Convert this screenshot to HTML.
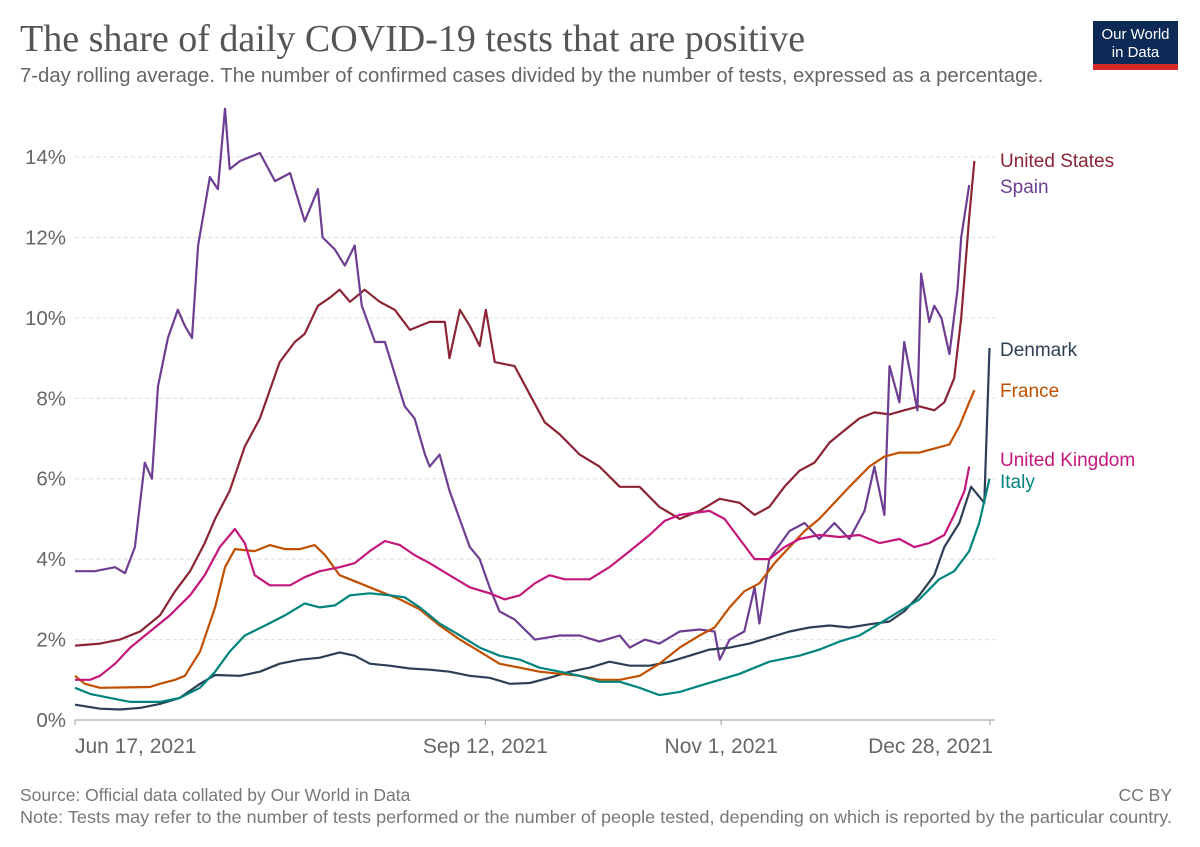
<!DOCTYPE html>
<html><head><meta charset="utf-8"><style>
body{margin:0;background:#fff;width:1200px;height:847px;overflow:hidden;font-family:"Liberation Sans",sans-serif}
svg{position:absolute;left:0;top:0}
</style></head><body>
<svg width="1200" height="847">
<text x="20" y="51" font-family="Liberation Serif, serif" font-size="38" fill="#555">The share of daily COVID-19 tests that are positive</text>
<text x="20" y="82" font-size="20.3" fill="#666">7-day rolling average. The number of confirmed cases divided by the number of tests, expressed as a percentage.</text>
<g>
<rect x="1093" y="21" width="85" height="49" fill="#0c2a55"/>
<rect x="1093" y="64" width="85" height="6" fill="#d42a2a"/>
<text x="1135.5" y="39" font-size="15" fill="#fff" text-anchor="middle">Our World</text>
<text x="1135.5" y="57" font-size="15" fill="#fff" text-anchor="middle">in Data</text>
</g>
<g id="grid"></g><g id="series"></g><g id="labels"></g>
<text x="20" y="801" font-size="17.5" fill="#777">Source: Official data collated by Our World in Data</text>
<text x="1172" y="801" font-size="17.5" fill="#777" text-anchor="end">CC BY</text>
<text x="20" y="823" font-size="17.5" fill="#777" textLength="1152" lengthAdjust="spacingAndGlyphs">Note: Tests may refer to the number of tests performed or the number of people tested, depending on which is reported by the particular country.</text>
</svg>
<script>
const yTicks=[0,2,4,6,8,10,12,14];
const xTickDays=[0,87,137,194];
const xTickLabels=["Jun 17, 2021","Sep 12, 2021","Nov 1, 2021","Dec 28, 2021"];
const seriesNames=["United States","Spain","Denmark","France","United Kingdom","Italy"];
const seriesColors=["#8b2435","#6d3e91","#2d3f55","#c05000","#c4177c","#00847e"];
const usData=[[0,1.85],[5.3,1.9],[9.5,2.0],[13.8,2.2],[18,2.6],[21.2,3.2],[24.4,3.7],[27.5,4.4],[29.7,5.0],[32.8,5.7],[36,6.8],[39.2,7.5],[43.4,8.9],[46.6,9.4],[48.7,9.6],[51.5,10.3],[54,10.5],[56.1,10.7],[58.3,10.4],[61.4,10.7],[64.6,10.4],[67.8,10.2],[71,9.7],[75.2,9.9],[78.4,9.9],[79.4,9.0],[81.6,10.2],[83.7,9.8],[85.8,9.3],[87.1,10.2],[89,8.9],[93.2,8.8],[96.4,8.1],[99.6,7.4],[102.8,7.1],[107,6.6],[111.2,6.3],[115.5,5.8],[119.7,5.8],[123.9,5.3],[128.2,5.0],[132.4,5.2],[136.7,5.5],[140.9,5.4],[144.1,5.1],[147.2,5.3],[150.4,5.8],[153.6,6.2],[156.8,6.4],[160,6.9],[163.1,7.2],[166.3,7.5],[169.5,7.65],[172.7,7.6],[175.8,7.7],[179,7.8],[182.2,7.7],[184.3,7.9],[186.4,8.5],[187.9,10.0],[189.6,12.5],[190.7,13.9]];
const spainData=[[0,3.7],[4.2,3.7],[8.5,3.8],[10.6,3.65],[12.7,4.3],[14.8,6.4],[16.3,6.0],[17.6,8.3],[19.7,9.5],[21.8,10.2],[23.3,9.8],[24.8,9.5],[26.1,11.8],[28.6,13.5],[30.3,13.2],[31.8,15.2],[32.8,13.7],[35,13.9],[39.2,14.1],[42.4,13.4],[45.6,13.6],[48.7,12.4],[51.5,13.2],[52.5,12.0],[55.1,11.7],[57.2,11.3],[59.3,11.8],[60.8,10.3],[63.6,9.4],[65.7,9.4],[67.8,8.6],[69.9,7.8],[72,7.5],[74.2,6.6],[75.2,6.3],[77.3,6.6],[79.4,5.7],[83.7,4.3],[85.8,4.0],[87.9,3.3],[90,2.7],[93.2,2.5],[97.5,2.0],[102.8,2.1],[107,2.1],[111.2,1.95],[115.5,2.1],[117.6,1.8],[120.8,2.0],[123.9,1.9],[128.2,2.2],[132.4,2.25],[135.6,2.2],[136.7,1.5],[138.8,2.0],[141.9,2.2],[144.1,3.3],[145.1,2.4],[147.2,4.0],[151.5,4.7],[154.7,4.9],[157.8,4.5],[161,4.9],[164.2,4.5],[167.4,5.2],[169.5,6.3],[171.6,5.1],[172.7,8.8],[174.8,7.9],[175.8,9.4],[178.6,7.7],[179.4,11.1],[181.1,9.9],[182.2,10.3],[183.7,10.0],[185.4,9.1],[187.1,10.7],[187.9,12.0],[189.6,13.3]];
const denmarkData=[[0,0.38],[5.3,0.28],[9.5,0.26],[13.8,0.3],[18,0.4],[22.2,0.55],[26.5,0.9],[29.7,1.12],[35,1.1],[39.2,1.2],[43.4,1.4],[47.7,1.5],[51.9,1.55],[56.1,1.68],[59.3,1.6],[62.5,1.4],[66.7,1.35],[71,1.28],[75.2,1.25],[79.4,1.2],[83.7,1.1],[87.9,1.05],[92.2,0.9],[96.4,0.92],[100.6,1.05],[104.9,1.2],[109.1,1.3],[113.3,1.45],[117.6,1.35],[121.8,1.35],[126.1,1.45],[130.3,1.6],[134.5,1.75],[138.8,1.8],[143,1.9],[147.2,2.05],[151.5,2.2],[155.7,2.3],[160,2.35],[164.2,2.3],[168.4,2.38],[172.7,2.45],[175.8,2.7],[179,3.1],[182.2,3.6],[184.3,4.3],[187.5,4.9],[190,5.8],[192.8,5.4],[193.9,9.25]];
const franceData=[[0,1.1],[2.1,0.9],[5.3,0.8],[15.9,0.82],[18,0.9],[21.2,1.0],[23.3,1.1],[26.5,1.7],[29.7,2.8],[31.8,3.8],[33.9,4.25],[38.1,4.2],[41.3,4.35],[44.5,4.25],[47.7,4.25],[50.8,4.35],[53,4.1],[56.1,3.6],[60.4,3.4],[64.6,3.2],[68.9,3.0],[73.1,2.75],[77.3,2.35],[81.6,2.0],[85.8,1.7],[90,1.4],[94.3,1.3],[98.5,1.2],[102.8,1.15],[107,1.1],[111.2,1.0],[115.5,1.0],[119.7,1.1],[123.9,1.4],[128.2,1.8],[132.4,2.1],[135.6,2.3],[138.8,2.8],[141.9,3.2],[145.1,3.4],[148.3,3.9],[151.5,4.3],[154.7,4.7],[157.8,5.0],[161,5.4],[164.2,5.8],[168.4,6.3],[171.6,6.55],[174.8,6.65],[179,6.65],[182.2,6.75],[185.4,6.85],[187.5,7.3],[189.6,7.9],[190.7,8.2]];
const ukData=[[0,1.0],[3.2,1.0],[5.3,1.1],[8.5,1.4],[11.7,1.8],[15.9,2.2],[20.1,2.6],[24.4,3.1],[27.5,3.6],[30.7,4.3],[33.9,4.75],[36,4.4],[38.1,3.6],[41.3,3.35],[45.6,3.35],[48.7,3.55],[51.9,3.7],[56.1,3.8],[59.3,3.9],[62.5,4.2],[65.7,4.45],[68.9,4.35],[72,4.1],[75.2,3.9],[79.4,3.6],[83.7,3.3],[87.9,3.15],[91.1,3.0],[94.3,3.1],[97.5,3.4],[100.6,3.6],[103.8,3.5],[109.1,3.5],[113.3,3.8],[117.6,4.2],[121.8,4.6],[125,4.95],[128.2,5.1],[131.4,5.15],[134.5,5.2],[137.7,5.0],[140.9,4.5],[144.1,4.0],[147.2,4.0],[150.4,4.3],[153.6,4.5],[157.8,4.6],[162.1,4.55],[166.3,4.6],[170.6,4.4],[174.8,4.5],[178,4.3],[181.1,4.4],[184.3,4.6],[186.4,5.1],[188.6,5.7],[189.6,6.3]];
const italyData=[[0,0.8],[3.2,0.65],[7.4,0.55],[11.7,0.45],[18,0.45],[22.2,0.55],[26.5,0.8],[29.7,1.2],[32.8,1.7],[36,2.1],[40.3,2.35],[44.5,2.6],[48.7,2.9],[51.9,2.8],[55.1,2.85],[58.3,3.1],[62.5,3.15],[66.7,3.1],[69.9,3.05],[73.1,2.8],[77.3,2.4],[81.6,2.1],[85.8,1.8],[90,1.6],[94.3,1.5],[98.5,1.3],[102.8,1.2],[107,1.1],[111.2,0.95],[115.5,0.95],[119.7,0.8],[123.9,0.62],[128.2,0.7],[132.4,0.85],[136.7,1.0],[140.9,1.15],[144.1,1.3],[147.2,1.45],[153.6,1.6],[157.8,1.75],[162.1,1.95],[166.3,2.1],[170.6,2.4],[174.8,2.7],[179,3.0],[183.2,3.5],[186.4,3.7],[189.6,4.2],[191.7,4.9],[193.9,6.0]];
const allData=[usData,spainData,denmarkData,franceData,ukData,italyData];
const X0=75,X1=990,Y0=720,Y14=157,DMAX=194,VMAX=14;
const xs=d=>X0+(X1-X0)*d/DMAX;
const ys=v=>Y0-(Y0-Y14)*v/VMAX;
const NS="http://www.w3.org/2000/svg";
function mk(t,a,p){const e=document.createElementNS(NS,t);for(const k in a)e.setAttribute(k,a[k]);p.appendChild(e);return e;}
const grid=document.getElementById('grid');
yTicks.forEach(v=>{
 const l=mk('line',{x1:75,x2:995,y1:ys(v),y2:ys(v),stroke:'#ddd','stroke-dasharray':v===0?'':'4,3'},grid);
 
 
 const t=mk('text',{x:66,y:ys(v)+7,'font-size':20.5,fill:'#666','text-anchor':'end'},grid);
 t.textContent=v+'%';
 
 
});
const ax=mk('line',{x1:75,x2:995,y1:Y0,y2:Y0,stroke:'#999'},grid);


xTickDays.forEach((d,i)=>{
 const tk=mk('line',{x1:xs(d),x2:xs(d),y1:Y0,y2:Y0+5,stroke:'#999'},grid);
 
 
 const anchor=i===0?'start':(i===xTickDays.length-1?'end':'middle');
 const t=mk('text',{x:xs(d)+(i===xTickDays.length-1?3:0),y:753,'font-size':21,fill:'#666','text-anchor':anchor},grid);
 t.textContent=xTickLabels[i];
 
 
});
const sg=document.getElementById('series'),lg=document.getElementById('labels');
const labelY=[160,186,349,390,459,481];
allData.forEach((s,i)=>{
 const p=mk('path',{d:s.map((pt,j)=>(j?'L':'M')+xs(pt[0]).toFixed(1)+','+ys(pt[1]).toFixed(1)).join(''),fill:'none',stroke:seriesColors[i],'stroke-width':2.2,'stroke-linejoin':'round'},sg);
 
 
 const t=mk('text',{x:1000,y:labelY[i]+7,'font-size':19,fill:seriesColors[i]},lg);
 t.textContent=seriesNames[i];
 
 
});
</script>
</body></html>
